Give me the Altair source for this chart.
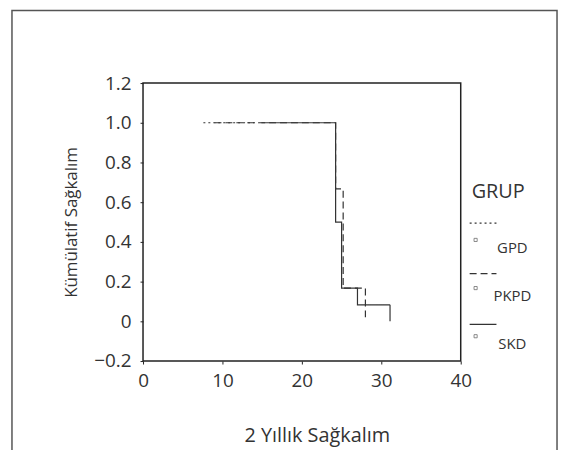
import altair as alt
import pandas as pd

# Kaplan-Meier step curves (time, cumulative survival)
groups = ["GPD", "PKPD", "SKD"]
gpd_time = [7.6, 14.5]
gpd_surv = [1.0, 1.0]
pkpd_time = [9.0, 24.25, 25.2, 28.0]
pkpd_surv = [1.0, 0.667, 0.167, 0.0]
skd_time = [14.9, 24.25, 25.0, 27.0, 31.1]
skd_surv = [1.0, 0.5, 0.167, 0.083, 0.0]

y_ticks = [-0.2, 0, 0.2, 0.4, 0.6, 0.8, 1.0, 1.2]
x_ticks = [0, 10, 20, 30, 40]

rows = []
for g, ts, ss in [("GPD", gpd_time, gpd_surv), ("PKPD", pkpd_time, pkpd_surv), ("SKD", skd_time, skd_surv)]:
    for i, (t, s) in enumerate(zip(ts, ss)):
        rows.append({"grup": g, "t": t, "s": s, "i": i})
df = pd.DataFrame(rows)

FONT = "Open Sans"
INK = "#333333"

dash_scale = alt.Scale(domain=groups, range=[[2, 3], [7, 4], [1, 0]])

x_enc = alt.X("t:Q", scale=alt.Scale(domain=[0, 40], nice=False),
              axis=alt.Axis(values=x_ticks, title="2 Yıllık Sağkalım", grid=False,
                            labelFontSize=19, titleFontSize=20, labelPadding=8,
                            tickSize=3, domain=False, labelFlush=False,
                            titleX=175, titleY=75, titleBaseline="middle"))
y_enc = alt.Y("s:Q", scale=alt.Scale(domain=[-0.2, 1.2], nice=False, zero=False),
              axis=alt.Axis(values=y_ticks, title="Kümülatif Sağkalım", grid=False,
                            labelFontSize=19, titleFontSize=17, labelPadding=9,
                            tickSize=3, domain=False, labelFlush=False,
                            titleX=-72, titleBaseline="middle",
                            labelExpr="datum.value == 0 ? '0' : format(datum.value, '.1f')"))

curves = alt.Chart(df).mark_line(interpolate="step-after", color=INK, strokeWidth=1.2).encode(
    x=x_enc, y=y_enc,
    strokeDash=alt.StrokeDash("grup:N", scale=dash_scale, legend=None),
    detail="grup:N",
    order="i:Q",
)

# Outer page frame
frame = alt.Chart(pd.DataFrame({"a": [0]})).mark_rect(
    fill=None, stroke="#555555", strokeWidth=1.5
).encode(x=alt.value(-132), x2=alt.value(417), y=alt.value(-73), y2=alt.value(400))

# Custom SPSS-style legend
leg_df = pd.DataFrame({"grup": groups, "k": [0, 1, 2]})
leg_title = alt.Chart(pd.DataFrame({"t": ["GRUP"]})).mark_text(
    font=FONT, fontSize=20, color=INK, align="left", baseline="middle"
).encode(text="t:N", x=alt.value(331), y=alt.value(110))

leg_lines = alt.Chart(leg_df).mark_rule(color=INK, strokeWidth=1.3).encode(
    x=alt.value(329), x2=alt.value(356),
    y=alt.Y("k:Q", scale=alt.Scale(domain=[0, 2], range=[141, 243]), axis=None),
    strokeDash=alt.StrokeDash("grup:N", scale=dash_scale, legend=None),
)
leg_sq = alt.Chart(leg_df).mark_point(shape="square", size=10, color=INK, strokeWidth=0.8).encode(
    x=alt.value(335),
    y=alt.Y("k:Q", scale=alt.Scale(domain=[0, 2], range=[158, 255]), axis=None),
)
leg_lab = alt.Chart(leg_df).mark_text(
    font=FONT, fontSize=15, color=INK, align="center", baseline="middle"
).encode(
    text="grup:N", x=alt.value(372),
    y=alt.Y("k:Q", scale=alt.Scale(domain=[0, 2], range=[166, 263]), axis=None),
)

chart = alt.layer(frame, curves, leg_title, leg_lines, leg_sq, leg_lab).resolve_scale(
    y="independent", strokeDash="shared"
).properties(
    width=320, height=280,
    autosize=alt.AutoSizeParams(type="none"),
    padding={"left": 136, "top": 74, "right": 100, "bottom": 88},
    background="white",
).configure_view(
    stroke="#222222", strokeWidth=1.5
).configure_axis(
    labelFont=FONT, titleFont=FONT, labelColor=INK, titleColor=INK,
    tickColor="#222222", titleFontWeight="normal"
)

chart.save("out.html", embed_options={"renderer": "svg", "actions": False})
